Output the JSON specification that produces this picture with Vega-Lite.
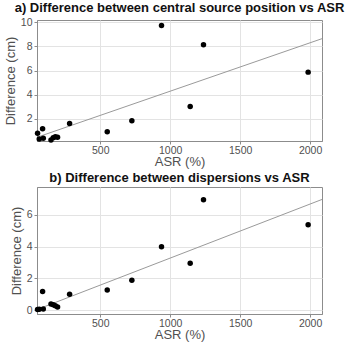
{
  "$schema": "https://vega.github.io/schema/vega-lite/v6.json",
  "background": "white",
  "padding": {"left": 3, "top": 1, "right": 3, "bottom": 0},
  "spacing": 2,
  "config": {
    "font": "Liberation Sans",
    "view": {"stroke": "#8c8c8c", "strokeWidth": 1},
    "axis": {
      "grid": true,
      "gridColor": "#e3e3e3",
      "domainColor": "#8c8c8c",
      "tickColor": "#8c8c8c",
      "tickSize": 3,
      "labelColor": "#505050",
      "titleColor": "#505050",
      "labelFontSize": 10.5,
      "titleFontSize": 13,
      "titleFontWeight": "normal",
      "labelPadding": 2,
      "labelOverlap": false,
      "labelFlush": false,
      "format": "d"
    },
    "axisY": {"titlePadding": 3},
    "axisX": {"titlePadding": 0, "labelPadding": 1},
    "title": {"fontSize": 13, "fontWeight": "bold", "color": "#111111", "offset": 2, "anchor": "middle"}
  },
  "datasets": {
    "pts": [
      {"asr": 52, "a": 0.79, "b": 0.05},
      {"asr": 64, "a": 0.32, "b": 0.07},
      {"asr": 88, "a": 1.16, "b": 1.18},
      {"asr": 93, "a": 0.37, "b": 0.09},
      {"asr": 148, "a": 0.23, "b": 0.39},
      {"asr": 164, "a": 0.43, "b": 0.35},
      {"asr": 179, "a": 0.51, "b": 0.29},
      {"asr": 195, "a": 0.46, "b": 0.21},
      {"asr": 281, "a": 1.61, "b": 1.01},
      {"asr": 550, "a": 0.91, "b": 1.28},
      {"asr": 726, "a": 1.83, "b": 1.88},
      {"asr": 938, "a": 9.75, "b": 3.98},
      {"asr": 1143, "a": 3.01, "b": 2.95},
      {"asr": 1238, "a": 8.15, "b": 6.93},
      {"asr": 1986, "a": 5.87, "b": 5.36}
    ],
    "fitA": [{"asr": 48, "y": 0.46}, {"asr": 2085, "y": 8.65}],
    "fitB": [{"asr": 48, "y": 0.05}, {"asr": 2085, "y": 6.95}]
  },
  "vconcat": [
    {
      "title": "a) Difference between central source position vs ASR",
      "width": 285,
      "height": 121,
      "layer": [
        {
          "data": {"name": "fitA"},
          "mark": {"type": "line", "color": "#9a9a9a", "strokeWidth": 1, "clip": true},
          "encoding": {
            "x": {"field": "asr", "type": "quantitative", "scale": {"domain": [48, 2085], "nice": false, "zero": false}, "axis": {"values": [500, 1000, 1500, 2000], "title": "ASR (%)"}},
            "y": {"field": "y", "type": "quantitative", "scale": {"domain": [0.15, 10.2], "nice": false, "zero": false}, "axis": {"values": [2, 4, 6, 8, 10], "title": "Difference (cm)", "labelOverlap": false, "labelBound": false}}
          }
        },
        {
          "data": {"name": "pts"},
          "mark": {"type": "circle", "color": "#000000", "opacity": 1, "size": 30},
          "encoding": {
            "x": {"field": "asr", "type": "quantitative"},
            "y": {"field": "a", "type": "quantitative", "axis": {"values": [2, 4, 6, 8, 10], "title": "Difference (cm)", "labelOverlap": false, "labelBound": false}}
          }
        }
      ]
    },
    {
      "title": "b) Difference between dispersions vs ASR",
      "width": 285,
      "height": 127,
      "layer": [
        {
          "data": {"name": "fitB"},
          "mark": {"type": "line", "color": "#9a9a9a", "strokeWidth": 1, "clip": true},
          "encoding": {
            "x": {"field": "asr", "type": "quantitative", "scale": {"domain": [48, 2085], "nice": false, "zero": false}, "axis": {"values": [500, 1000, 1500, 2000], "title": "ASR (%)"}},
            "y": {"field": "y", "type": "quantitative", "scale": {"domain": [-0.23, 7.73], "nice": false, "zero": false}, "axis": {"values": [0, 2, 4, 6], "title": "Difference (cm)"}}
          }
        },
        {
          "data": {"name": "pts"},
          "mark": {"type": "circle", "color": "#000000", "opacity": 1, "size": 30},
          "encoding": {
            "x": {"field": "asr", "type": "quantitative"},
            "y": {"field": "b", "type": "quantitative"}
          }
        }
      ]
    }
  ]
}
